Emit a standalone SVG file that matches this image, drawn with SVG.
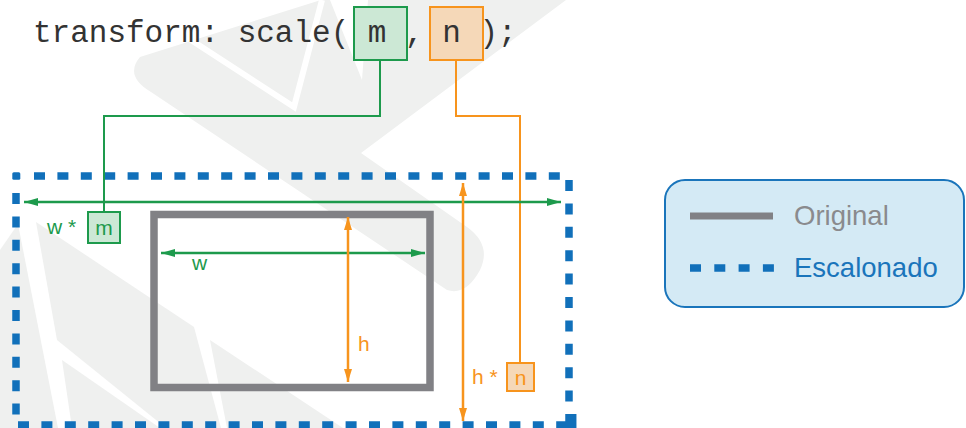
<svg xmlns="http://www.w3.org/2000/svg" width="966" height="428" viewBox="0 0 966 428">
<style>
.wm{fill:#eff0ef;stroke:none}
.code{font-family:"Liberation Mono","Courier New",monospace;font-size:31px;fill:#333333}
.lbl{font-family:"Liberation Sans",Arial,sans-serif;font-size:21px}
.g{fill:#1d9a4c}
.o{fill:#f7941d}
.gline{stroke:#1d9a4c;stroke-width:2;fill:none}
.oline{stroke:#f7941d;stroke-width:2;fill:none}
.garrow{stroke:#1d9a4c;stroke-width:2.5;fill:none;marker-start:url(#ga);marker-end:url(#ga)}
.oarrow{stroke:#f7941d;stroke-width:2.5;fill:none;marker-start:url(#oa);marker-end:url(#oa)}
.dash{stroke:#1170ba;stroke-width:7.5;fill:none;stroke-dasharray:11 12.4}
.leg{font-family:"Liberation Sans",Arial,sans-serif;font-size:27.5px}
</style>
<defs>
<marker id="ga" markerUnits="userSpaceOnUse" viewBox="0 0 14 8" markerWidth="14" markerHeight="8" refX="14" refY="4" orient="auto-start-reverse"><path d="M0,0 L14,4 L0,8 Z" fill="#1d9a4c"/></marker>
<marker id="oa" markerUnits="userSpaceOnUse" viewBox="0 0 13 8" markerWidth="13" markerHeight="8" refX="13" refY="4" orient="auto-start-reverse"><path d="M0,0 L13,4 L0,8 Z" fill="#f7941d"/></marker>
</defs>
<rect width="966" height="428" fill="#ffffff"/>
<g id="watermark">
<path class="wm" d="M321,0 L566,0 L361,153 L467,227 Q492,245 480,270 Q466,296 447,290 L151,92 Q124,76 140,57 Z"/>
<path fill="#ffffff" d="M330,0 L368,0 L362,80 Z"/>
<path d="M191,40 L294,107 L322,0" stroke="#ffffff" stroke-width="6" fill="none"/>
<path class="wm" d="M0,250 L18,224 L58,428 L0,428 Z"/>
<path class="wm" d="M36,222 L194,327 L221,428 L166,428 L57,340 Z"/>
<path class="wm" d="M62,360 L160,428 L72,428 Z"/>
<path class="wm" d="M210,340 L343,428 L227,428 Z"/>
</g>
<g id="scaled-box">
<path class="dash" d="M34,176 H561"/>
<path class="dash" d="M16,193 V417"/>
<path class="dash" d="M569,180 V425"/>
<path class="dash" d="M18,425 H560"/>
<rect x="12.3" y="172.2" width="8" height="7.6" rx="1.5" fill="#1170ba"/>
<path d="M560,425 H572.7 V414" stroke="#1170ba" stroke-width="7.5" fill="none"/>
</g>
<g id="original-box">
<rect x="154" y="214.5" width="276" height="173" fill="none" stroke="#818185" stroke-width="7.5"/>
</g>
<g id="code">
<rect x="354" y="7" width="53" height="53" fill="#cce8d5" stroke="#1d9a4c" stroke-width="2"/>
<rect x="430" y="7" width="53" height="53" fill="#f5d8b8" stroke="#f7941d" stroke-width="2"/>
<text class="code" x="33" y="42" xml:space="preserve">transform: scale( m , n );</text>
</g>
<g id="connectors">
<path class="gline" d="M380,60 V116 H104 V212"/>
<path class="oline" d="M456,60 V116 H520 V363"/>
<path class="garrow" d="M24,202 H561"/>
<path class="garrow" d="M161,253 H425"/>
<path class="oarrow" d="M348,217 V382"/>
<path class="oarrow" d="M463,183 V421"/>
</g>
<g id="m-label">
<rect x="88" y="212" width="32" height="31" fill="#cce8d5" stroke="#1d9a4c" stroke-width="2"/>
<text class="lbl g" x="104" y="235" text-anchor="middle">m</text>
<text class="lbl g" x="47" y="234">w *</text>
</g>
<g id="n-label">
<rect x="507" y="363" width="27" height="28" fill="#f5d8b8" stroke="#f7941d" stroke-width="2"/>
<text class="lbl o" x="520.5" y="385" text-anchor="middle">n</text>
<text class="lbl o" x="472" y="384">h *</text>
</g>
<text class="lbl g" x="192" y="270">w</text>
<text class="lbl o" x="358" y="351">h</text>
<g id="legend">
<rect x="665" y="180" width="299" height="127" rx="20" fill="#d4eaf5" stroke="#1a75bb" stroke-width="2"/>
<path d="M690,216 H773" stroke="#818185" stroke-width="7"/>
<path d="M690,268 H774" stroke="#1170ba" stroke-width="7.5" stroke-dasharray="11 13.3"/>
<text class="leg" x="794" y="225" fill="#8a8a8d">Original</text>
<text class="leg" x="794" y="277" fill="#1a75bb">Escalonado</text>
</g>
</svg>
